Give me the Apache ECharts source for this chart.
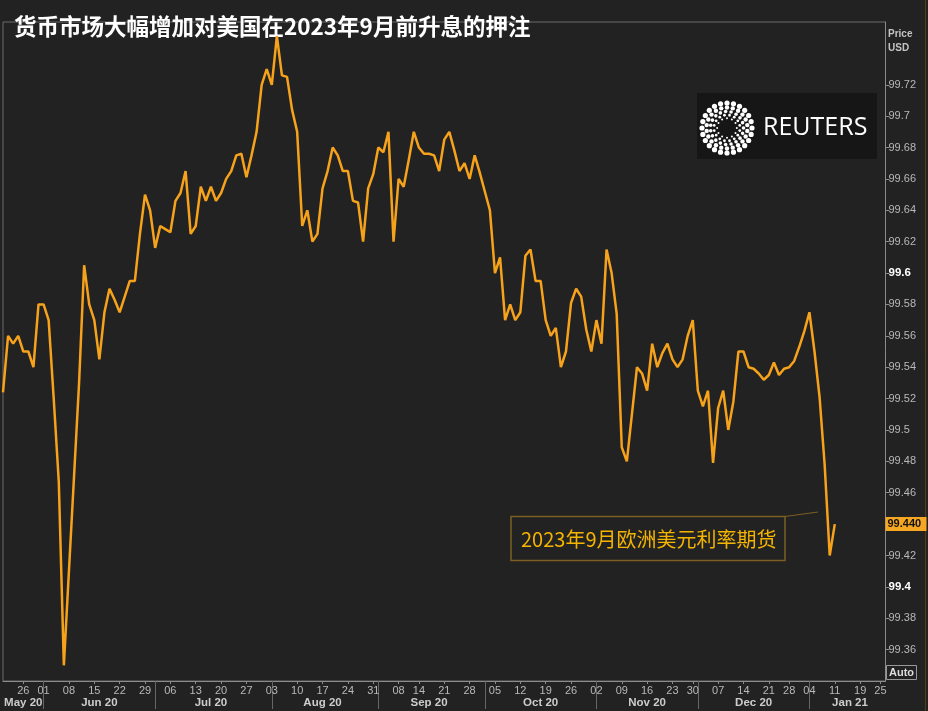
<!DOCTYPE html>
<html><head><meta charset="utf-8">
<script src="https://cdn.jsdelivr.net/npm/echarts@6/dist/echarts.min.js"></script>
<style>html,body{margin:0;padding:0;background:#222222;}#c{width:928px;height:711px;}</style>
</head><body><div id="c"></div>
<script>
// Trading days (category axis)
const dates = [
"2020-05-19","2020-05-20","2020-05-21","2020-05-22","2020-05-26","2020-05-27","2020-05-28","2020-05-29",
"2020-06-01","2020-06-02","2020-06-03","2020-06-04","2020-06-05","2020-06-08","2020-06-09","2020-06-10","2020-06-11","2020-06-12","2020-06-15","2020-06-16","2020-06-17","2020-06-18","2020-06-19","2020-06-22","2020-06-23","2020-06-24","2020-06-25","2020-06-26","2020-06-29","2020-06-30",
"2020-07-01","2020-07-02","2020-07-03","2020-07-06","2020-07-07","2020-07-08","2020-07-09","2020-07-10","2020-07-13","2020-07-14","2020-07-15","2020-07-16","2020-07-17","2020-07-20","2020-07-21","2020-07-22","2020-07-23","2020-07-24","2020-07-27","2020-07-28","2020-07-29","2020-07-30","2020-07-31",
"2020-08-03","2020-08-04","2020-08-05","2020-08-06","2020-08-07","2020-08-10","2020-08-11","2020-08-12","2020-08-13","2020-08-14","2020-08-17","2020-08-18","2020-08-19","2020-08-20","2020-08-21","2020-08-24","2020-08-25","2020-08-26","2020-08-27","2020-08-28","2020-08-31",
"2020-09-01","2020-09-02","2020-09-03","2020-09-04","2020-09-08","2020-09-09","2020-09-10","2020-09-11","2020-09-14","2020-09-15","2020-09-16","2020-09-17","2020-09-18","2020-09-21","2020-09-22","2020-09-23","2020-09-24","2020-09-25","2020-09-28","2020-09-29","2020-09-30",
"2020-10-01","2020-10-02","2020-10-05","2020-10-06","2020-10-07","2020-10-08","2020-10-09","2020-10-12","2020-10-13","2020-10-14","2020-10-15","2020-10-16","2020-10-19","2020-10-20","2020-10-21","2020-10-22","2020-10-23","2020-10-26","2020-10-27","2020-10-28","2020-10-29","2020-10-30",
"2020-11-02","2020-11-03","2020-11-04","2020-11-05","2020-11-06","2020-11-09","2020-11-10","2020-11-11","2020-11-12","2020-11-13","2020-11-16","2020-11-17","2020-11-18","2020-11-19","2020-11-20","2020-11-23","2020-11-24","2020-11-25","2020-11-27","2020-11-30",
"2020-12-01","2020-12-02","2020-12-03","2020-12-04","2020-12-07","2020-12-08","2020-12-09","2020-12-10","2020-12-11","2020-12-14","2020-12-15","2020-12-16","2020-12-17","2020-12-18","2020-12-21","2020-12-22","2020-12-23","2020-12-24","2020-12-28","2020-12-29","2020-12-30","2020-12-31",
"2021-01-04","2021-01-05","2021-01-06","2021-01-07","2021-01-08","2021-01-11","2021-01-12","2021-01-13","2021-01-14","2021-01-15","2021-01-19","2021-01-20","2021-01-21","2021-01-22","2021-01-25","2021-01-26"
];

// September 2023 Eurodollar futures price (USD)
const prices = [
99.524,99.560,99.555,99.560,99.550,99.550,99.540,99.580,99.580,99.570,
99.520,99.467,99.350,99.410,99.470,99.530,99.605,99.580,99.570,99.545,
99.575,99.590,99.583,99.575,99.585,99.595,99.595,99.625,99.650,99.640,
99.616,99.630,99.628,99.626,99.646,99.651,99.665,99.625,99.630,99.655,
99.646,99.655,99.646,99.651,99.660,99.665,99.675,99.676,99.661,99.675,
99.690,99.720,99.730,99.720,99.751,99.726,99.725,99.704,99.690,99.630,
99.640,99.620,99.625,99.654,99.665,99.680,99.675,99.665,99.665,99.646,
99.645,99.620,99.654,99.663,99.680,99.677,99.690,99.620,99.660,99.655,
99.672,99.690,99.680,99.676,99.676,99.675,99.665,99.685,99.690,99.678,
99.665,99.670,99.660,99.675,99.664,99.652,99.640,99.600,99.610,99.570,
99.580,99.570,99.575,99.611,99.615,99.595,99.595,99.570,99.560,99.565,
99.540,99.550,99.581,99.590,99.585,99.564,99.550,99.570,99.555,99.615,
99.600,99.574,99.489,99.480,99.510,99.540,99.536,99.525,99.555,99.540,
99.549,99.555,99.545,99.540,99.545,99.560,99.570,99.525,99.515,99.525,
99.479,99.514,99.525,99.500,99.518,99.550,99.550,99.540,99.539,99.536,
99.532,99.535,99.543,99.535,99.539,99.540,99.544,99.553,99.563,99.575,
99.550,99.521,99.478,99.420,99.440
];

const yTicks = [99.36,99.38,99.4,99.42,99.44,99.46,99.48,99.5,99.52,99.54,99.56,99.58,99.6,99.62,99.64,99.66,99.68,99.7,99.72];
const yBold = [99.4, 99.6];
const monthNames = ["Jan","Feb","Mar","Apr","May","Jun","Jul","Aug","Sep","Oct","Nov","Dec"];
const titleText = "货币市场大幅增加对美国在2023年9月前升息的押注";
const seriesLabel = "2023年9月欧洲美元利率期货";

const dow = dates.map(d => new Date(d + "T00:00:00Z").getUTCDay());
const isWeekStart = i => i > 0 && dow[i] < dow[i - 1];
const monthKey = d => d.slice(0, 7);
const monthStarts = [];
dates.forEach((d, i) => { if (i === 0 || monthKey(d) !== monthKey(dates[i - 1])) monthStarts.push(i); });
const monthMids = new Set(monthStarts.map((s, k) => Math.floor((s + (k + 1 < monthStarts.length ? monthStarts[k + 1] : dates.length)) / 2)));
const monthStartSet = new Set(monthStarts.filter(i => i > 0));
const lastPrice = prices[prices.length - 1];

const chart = echarts.init(document.getElementById('c'), null, {renderer: 'canvas'});
const AX = '#8c8c8c', LBL = '#b8b8b8', FONT = 'Liberation Sans';

// Reuters logo dots
const dots = [];
const rings = [[25, 24, 2.6], [20.5, 22, 2.2], [16.5, 19, 1.8], [13, 16, 1.4], [9.8, 12, 1.0]];
rings.forEach((r, k) => {
  for (let j = 0; j < r[1]; j++) {
    const a = (j + (k % 2) * 0.5) / r[1] * Math.PI * 2;
    dots.push({type: 'circle', shape: {cx: 727 + r[0] * Math.cos(a), cy: 128 + r[0] * Math.sin(a), r: r[2]}, style: {fill: '#ffffff'}, silent: true});
  }
});

chart.setOption({
  backgroundColor: '#222222',
  animation: false,
  grid: {left: 3, right: 42.5, top: 22, bottom: 30, show: true, borderColor: '#6a6a6a', borderWidth: 1},
  xAxis: [{
    type: 'category', data: dates, boundaryGap: false,
    axisLine: {lineStyle: {color: AX}},
    axisTick: {interval: (i) => isWeekStart(i), length: 3, lineStyle: {color: AX}},
    axisLabel: {interval: (i) => isWeekStart(i), formatter: v => v.slice(8, 10), color: LBL, fontSize: 11, fontFamily: FONT, margin: 4},
    splitLine: {show: false}
  }, {
    type: 'category', data: dates, boundaryGap: false, position: 'bottom',
    axisLine: {show: false},
    axisTick: {interval: (i) => monthStartSet.has(i), length: 28, lineStyle: {color: '#666666'}},
    axisLabel: {interval: (i) => monthMids.has(i), formatter: v => monthNames[+v.slice(5, 7) - 1] + ' ' + v.slice(2, 4), color: '#cccccc', fontSize: 11.5, fontWeight: 'bold', fontFamily: FONT, margin: 16},
    splitLine: {show: false}
  }],
  yAxis: {
    type: 'value', position: 'right', min: 99.34, max: 99.76, interval: 0.02,
    axisLine: {show: true, lineStyle: {color: AX}},
    axisTick: {show: true, length: 4, lineStyle: {color: AX}, customValues: yTicks},
    axisLabel: {
      customValues: yTicks, margin: 3, color: LBL, fontSize: 11, fontFamily: FONT,
      formatter: v => { const n = +(+v).toFixed(2); const s = String(n); return yBold.includes(n) ? '{b|' + s + '}' : s; },
      rich: {b: {fontWeight: 'bold', color: '#ffffff', fontSize: 11.5, fontFamily: FONT}}
    },
    splitLine: {show: false}
  },
  series: [{
    type: 'line', data: prices, symbol: 'none', smooth: false, z: 5,
    lineStyle: {color: '#f7a21b', width: 2.5}
  }]
});

// Last-price tag on the price axis, positioned through the axis scale
const py = chart.convertToPixel({yAxisIndex: 0}, lastPrice);
const axisX = chart.convertToPixel({xAxisIndex: 0}, dates[dates.length - 1]);

chart.setOption({
  graphic: [
    {id: 'title', type: 'text', left: 14, top: 15, style: {text: titleText, fill: '#ffffff', font: 'bold 22.5px "Noto Sans CJK SC"'}, silent: true},
    {id: 'unit', type: 'text', x: 888, y: 27, style: {text: 'Price\nUSD', fill: '#c4c4c4', font: 'bold 10px "Liberation Sans"', lineHeight: 14}, silent: true},
    {id: 'autoBox', type: 'rect', shape: {x: 886.5, y: 665.5, width: 30, height: 14}, style: {fill: 'none', stroke: '#999999', lineWidth: 1}, silent: true},
    {id: 'autoTxt', type: 'text', x: 889, y: 667, style: {text: 'Auto', fill: '#dddddd', font: 'bold 11px "Liberation Sans"'}, silent: true},
    {id: 'edge', type: 'line', shape: {x1: 925.5, y1: 0, x2: 925.5, y2: 711}, style: {stroke: '#5a3c12', lineWidth: 1}, silent: true},
    {id: 'logoBg', type: 'rect', shape: {x: 697, y: 93, width: 180, height: 66}, style: {fill: '#161616'}, silent: true},
    {id: 'logoDots', type: 'group', children: dots, silent: true},
    {id: 'logoTxt', type: 'text', x: 763, y: 128, style: {text: 'REUTERS', fill: '#ffffff', font: '25px "Open Sans"', verticalAlign: 'middle'}, silent: true},
    {id: 'annBox', type: 'rect', shape: {x: 511, y: 516.5, width: 274, height: 44}, style: {fill: 'none', stroke: '#7d5f22', lineWidth: 1.5}, silent: true, z: 10},
    {id: 'annLine', type: 'line', shape: {x1: 785, y1: 516.5, x2: 818, y2: 512}, style: {stroke: '#7d5f22', lineWidth: 1}, silent: true, z: 10},
    {id: 'annTxt', type: 'text', x: 521, y: 539, style: {text: seriesLabel, fill: '#f5b400', font: '20px "Noto Sans CJK SC"', verticalAlign: 'middle'}, silent: true, z: 10},
    {id: 'tagBox', type: 'rect', shape: {x: axisX, y: py - 7, width: 41, height: 14}, style: {fill: '#f5a623'}, silent: true, z: 20},
    {id: 'tagTxt', type: 'text', x: axisX + 2, y: py, style: {text: lastPrice.toFixed(3), fill: '#111111', font: 'bold 11px "Liberation Sans"', verticalAlign: 'middle'}, silent: true, z: 21}
  ]
});
</script></body></html>
